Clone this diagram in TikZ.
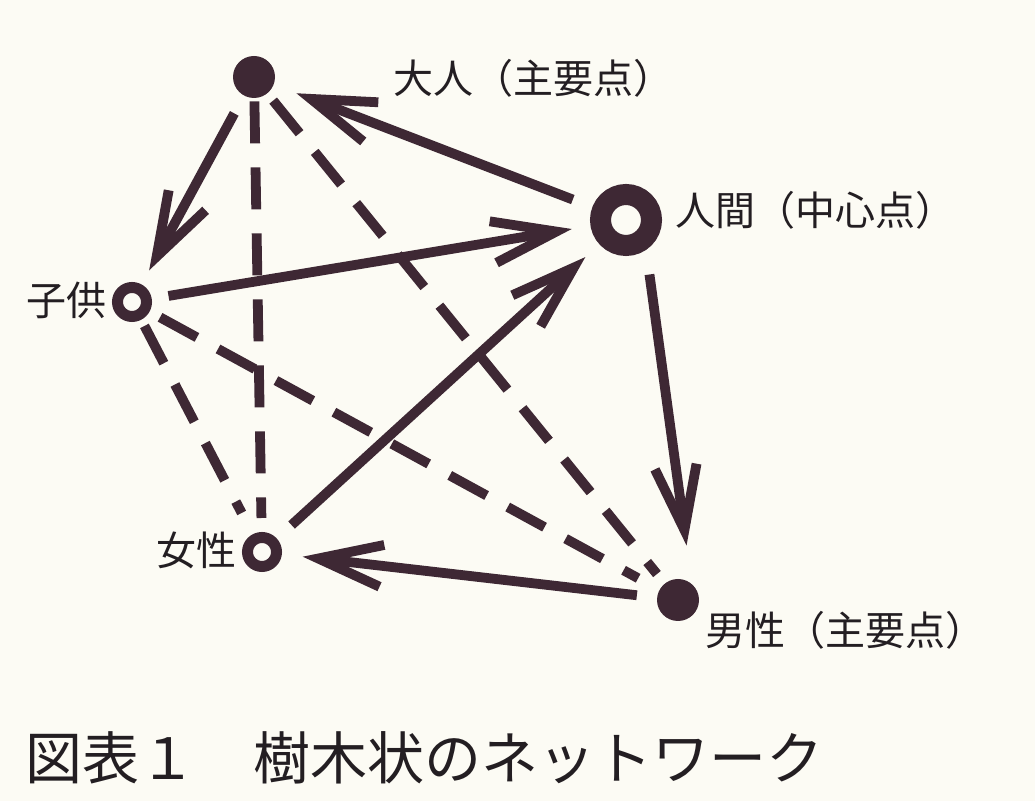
\documentclass[tikz,border=0pt]{standalone}
\usepackage{fontspec}
\newfontfamily\jp{Noto Sans CJK JP}
\usetikzlibrary{arrows.meta}
\definecolor{ink}{RGB}{62,40,52}
\definecolor{txt}{RGB}{35,30,34}
\definecolor{paper}{RGB}{252,251,244}
\begin{document}
\begin{tikzpicture}[x=0.5pt,y=-0.5pt,
  dot/.style={circle,fill=ink,inner sep=0pt,minimum size=21pt},
  bigring/.style={circle,draw=ink,line width=10.5pt,inner sep=0pt,minimum size=25.5pt},
  smallring/.style={circle,draw=ink,line width=5.5pt,inner sep=0pt,minimum size=14.5pt},
  lbl/.style={font=\jp\fontsize{20pt}{24pt}\selectfont,text=txt,inner sep=0pt},
  arr/.style={draw=ink,line width=4.9pt,-{Straight Barb[length=32pt,width=21pt]}},
  dsh/.style={draw=ink,line width=4.9pt,dash pattern=on 21pt off 12pt},
]
\fill[paper] (0,0) rectangle (1035,801);
\useasboundingbox (0,0) rectangle (1035,801);

\node[dot] (adult) at (254,77) {};
\node[bigring] (human) at (626,220) {};
\node[smallring] (child) at (132,302) {};
\node[smallring] (woman) at (262,552) {};
\node[dot] (man) at (678,600) {};

\node[lbl,anchor=west] (ladult) at (393,78) {大人（主要点）};
\node[lbl,anchor=west] (lhuman) at (675,210) {人間（中心点）};
\node[lbl,anchor=east] (lchild) at (107,300) {子供};
\node[lbl,anchor=east] (lwoman) at (237,550) {女性};
\node[lbl,anchor=west] (lman) at (705,630) {男性（主要点）};
\node[font=\jp\fontsize{28.5pt}{34pt}\selectfont,anchor=west,inner sep=0pt,text=txt] (cap) at (25,758) {図表１　樹木状のネットワーク};

\coordinate (hm1) at ([xshift=8pt]human.center);
\coordinate (hm2) at ([xshift=8pt]man.center);

\draw[dsh,shorten <=1.5pt,shorten >=7pt] (adult) -- (woman);
\draw[dsh,shorten <=4.5pt,shorten >=6pt] (adult) -- (man);
\draw[dsh,shorten <=3.5pt,shorten >=12pt] (child) -- (woman);
\draw[dsh,shorten <=6pt,shorten >=12pt] (child) -- (man);

\draw[arr,shorten <=10pt,shorten >=8pt] (adult) -- (child);
\draw[arr,shorten <=10.5pt,shorten >=12pt] (human) -- (adult);
\draw[arr,shorten <=8.5pt,shorten >=9.5pt] (child) -- (human);
\draw[arr,shorten <=10pt,shorten >=9.5pt] (woman) -- (human);
\draw[arr,shorten <=27.5pt,shorten >=27.5pt] (hm1) -- (hm2);
\draw[arr,shorten <=10pt,shorten >=10.5pt] (man) -- (woman);
\end{tikzpicture}
\end{document}
